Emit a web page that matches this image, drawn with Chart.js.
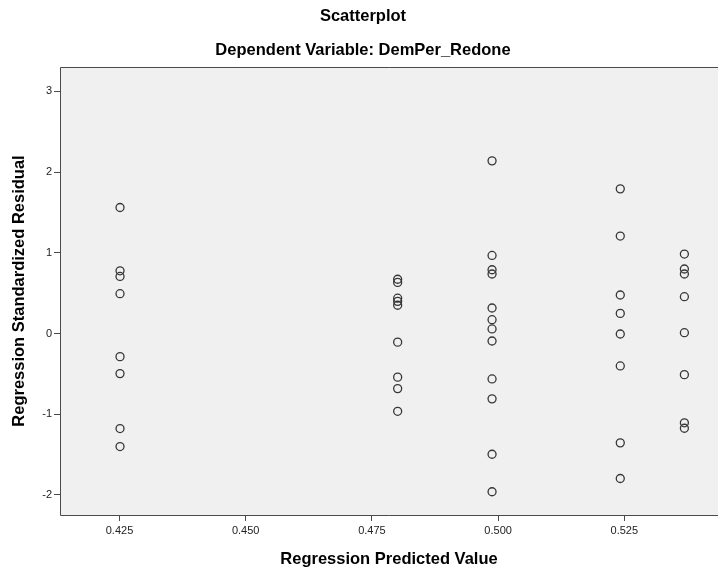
<!DOCTYPE html>
<html>
<head>
<meta charset="utf-8">
<title>Scatterplot</title>
<script src="https://cdn.jsdelivr.net/npm/chart.js@4"></script>
<style>
  html, body { margin: 0; padding: 0; background: #ffffff; overflow: hidden; }
  #wrap { width: 718px; height: 573px; position: relative; }
</style>
</head>
<body>
<div id="wrap"><canvas id="chart"></canvas></div>
<script>
// Predicted values take only a few distinct levels; residuals are listed per level.
const predictedLevels = [0.4251, 0.4801, 0.4988, 0.5242, 0.5369];
const residualsLevel1 = [1.562, 0.778, 0.708, 0.494, -0.286, -0.496, -1.177, -1.400];
const residualsLevel2 = [0.673, 0.634, 0.438, 0.399, 0.351, -0.106, -0.540, -0.682, -0.963];
const residualsLevel3 = [2.140, 0.968, 0.791, 0.738, 0.317, 0.172, 0.057, -0.092, -0.562, -0.809, -1.495, -1.960];
const residualsLevel4 = [1.793, 1.208, 0.478, 0.250, -0.005, -0.401, -1.354, -1.796];
const residualsLevel5 = [0.985, 0.800, 0.738, 0.457, 0.011, -0.509, -1.106, -1.173];

const xTickValues = [0.425, 0.450, 0.475, 0.500, 0.525];
const yTickValues = [-2, -1, 0, 1, 2, 3];

const residualGroups = [residualsLevel1, residualsLevel2, residualsLevel3, residualsLevel4, residualsLevel5];
const points = [];
residualGroups.forEach((group, i) => {
  group.forEach(r => points.push({ x: predictedLevels[i], y: r }));
});

const FONT = "'Liberation Sans', Arial, sans-serif";
const AXIS_COLOR = '#4a4a4a';
const TITLE_FONT = { family: FONT, size: 16.5, weight: 'bold', lineHeight: 1.2 };

// Grey plot background and frame around the chart area
const plotFrame = {
  id: 'plotFrame',
  beforeDraw(chart) {
    const { ctx, chartArea: a } = chart;
    ctx.save();
    ctx.fillStyle = '#f0f0f0';
    ctx.fillRect(a.left, a.top, a.right - a.left, a.bottom - a.top);
    ctx.restore();
  },
  afterDraw(chart) {
    const { ctx, chartArea: a } = chart;
    ctx.save();
    ctx.strokeStyle = AXIS_COLOR;
    ctx.lineWidth = 1;
    ctx.beginPath();
    ctx.moveTo(a.left + 0.5, a.bottom + 0.5);
    ctx.lineTo(a.left + 0.5, a.top + 0.5);
    ctx.lineTo(a.right, a.top + 0.5);
    ctx.moveTo(a.left + 0.5, a.bottom + 0.5);
    ctx.lineTo(a.right, a.bottom + 0.5);
    ctx.stroke();
    ctx.restore();
  }
};

new Chart(document.getElementById('chart'), {
  type: 'scatter',
  data: {
    datasets: [{
      data: points,
      pointStyle: 'circle',
      pointRadius: 4,
      pointHoverRadius: 4,
      pointBorderWidth: 1.3,
      pointBorderColor: '#363636',
      pointBackgroundColor: 'rgba(0,0,0,0)'
    }]
  },
  options: {
    responsive: true,
    maintainAspectRatio: false,
    animation: false,
    events: [],
    layout: { padding: { left: 8, right: 0, top: 0, bottom: 0 }, autoPadding: false },
    plugins: {
      legend: { display: false },
      tooltip: { enabled: false },
      title: {
        display: true,
        text: 'Scatterplot',
        color: '#000000',
        font: TITLE_FONT,
        padding: { top: 7, bottom: 13.3 }
      },
      subtitle: {
        display: true,
        text: 'Dependent Variable: DemPer_Redone',
        color: '#000000',
        font: TITLE_FONT,
        padding: { top: 0, bottom: 7.1 }
      }
    },
    scales: {
      x: {
        type: 'linear',
        min: 0.41321,
        max: 0.54356,
        afterBuildTicks(scale) { scale.ticks = xTickValues.map(v => ({ value: v })); },
        afterFit(scale) { scale.height = 58; scale.paddingLeft = 0; scale.paddingRight = 0; },
        grid: { display: true, drawOnChartArea: false, drawTicks: true, tickLength: 6, color: AXIS_COLOR, lineWidth: 1 },
        border: { display: false },
        ticks: {
          color: '#222222',
          font: { family: FONT, size: 11 },
          padding: 3,
          maxRotation: 0,
          callback: v => Number(v).toFixed(3)
        },
        title: {
          display: true,
          text: 'Regression Predicted Value',
          color: '#000000',
          font: TITLE_FONT,
          padding: { top: 6, bottom: 4 }
        }
      },
      y: {
        type: 'linear',
        min: -2.248,
        max: 3.303,
        afterBuildTicks(scale) { scale.ticks = yTickValues.map(v => ({ value: v })); },
        afterFit(scale) { scale.width = 52; scale.paddingTop = 0; scale.paddingBottom = 0; },
        grid: { display: true, drawOnChartArea: false, drawTicks: true, tickLength: 6, color: AXIS_COLOR, lineWidth: 1 },
        border: { display: false },
        ticks: {
          color: '#222222',
          font: { family: FONT, size: 11 },
          padding: 2,
          callback: v => String(v)
        },
        title: {
          display: true,
          text: 'Regression Standardized Residual',
          color: '#000000',
          font: TITLE_FONT,
          padding: { top: 2, bottom: 4 }
        }
      }
    }
  },
  plugins: [plotFrame]
});
</script>
</body>
</html>
